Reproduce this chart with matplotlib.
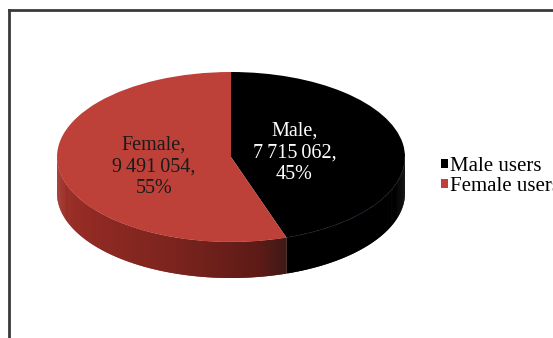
import numpy as np
import matplotlib
matplotlib.use('Agg')
import matplotlib.pyplot as plt
from matplotlib.collections import PolyCollection
from matplotlib.patches import Patch

names = ['Male', 'Female']
legend_labels = ['Male users', 'Female users']
users = [7715062, 9491054]
top_colors = ['#000000', '#be4139']

W, H = 553, 338
fig = plt.figure(figsize=(W / 100, H / 100), dpi=100)
fig.patch.set_facecolor('white')

# full-figure axes in pixel units for the frame and legend
ax = fig.add_axes([0, 0, 1, 1])
ax.set_xlim(0, W)
ax.set_ylim(H, 0)
ax.axis('off')
ax.plot([9, 9], [H, 10], color='#3a3a3a', lw=2, solid_capstyle='projecting')
ax.plot([9, W + 5], [10, 10], color='#3a3a3a', lw=2, solid_capstyle='projecting')

# pie axes: unit circle stretched into the ellipse, side depth below it
cx, cy, rx, ry, depth_px = 231, 157, 174, 85, 36
depth = depth_px / ry
top_px, bot_px = cy - ry, cy + ry + depth_px
pax = fig.add_axes([(cx - rx) / W, 1 - bot_px / H, 2 * rx / W, (bot_px - top_px) / H])

total = sum(users)
fracs = [u / total for u in users]
# clockwise from 12 o'clock
starts, a = [], 90.0
for f in fracs:
    starts.append(a)
    a -= 360 * f
ends = [s - 360 * f for s, f in zip(starts, fracs)]


def side_color(phi, name):
    if name == 'Male':
        return (0, 0, 0)
    # horizontal shading on the red wall, darkest next to the black slice
    xs = [-180, -110, -80, ends[0]]
    cs = np.array([[166, 50, 42], [125, 36, 30], [92, 26, 22], [62, 26, 22]]) / 255
    return tuple(np.interp(phi, xs, cs[:, k]) for k in range(3))


polys, cols = [], []
for name, s, e in zip(names, starts, ends):
    lo, hi = sorted((s, e))
    # visible front wall lies between -180 and 0 degrees
    for lo2, hi2 in [(lo, hi), (lo - 360, hi - 360)]:
        a0, a1 = max(lo2, -180), min(hi2, 0)
        if a1 <= a0:
            continue
        grid = np.linspace(a0, a1, int(a1 - a0) * 2 + 2)
        step = grid[1] - grid[0]
        for p0, p1 in zip(grid[:-1], grid[1:]):
            # strips overlap their neighbour so no seams show
            q1 = min(p1 + step, a1)
            r0, r1 = np.radians(p0), np.radians(q1)
            polys.append([(np.cos(r0), np.sin(r0)), (np.cos(r1), np.sin(r1)),
                          (np.cos(r1), np.sin(r1) - depth), (np.cos(r0), np.sin(r0) - depth)])
            cols.append(side_color((p0 + p1) / 2, name))
pax.add_collection(PolyCollection(polys, facecolors=cols, edgecolors='none', linewidths=0))

pax.pie(users, colors=top_colors, startangle=90, counterclock=False, radius=1,
        wedgeprops=dict(linewidth=0))
pax.set_aspect('auto')
pax.set_xlim(-1, 1)
pax.set_ylim(-1 - depth, 1)
pax.axis('off')

# rim line along the black wall
phi = np.radians(np.linspace(ends[0], 0, 80))
pax.plot(np.cos(phi), np.sin(phi), color='#1c2433', lw=0.6, ls=(0, (2, 1)))

serif = ['Liberation Serif', 'DejaVu Serif']
label_r = [0.37, 0.45]
label_dy = [-0.01, -0.045]
txt_colors = ['white', '#1a1a1a']
for name, u, f, s, e, c, r, dy in zip(names, users, fracs, starts, ends, txt_colors, label_r, label_dy):
    mid = np.radians((s + e) / 2)
    num = f'{u:,}'.replace(',', '\u2009')
    pax.text(r * np.cos(mid), r * np.sin(mid) + dy,
             f'{name},\n{num},\n{round(f * 100)}%', ha='center', va='center',
             color=c, fontsize=14.5, family=serif, linespacing=1.2)

handles = [Patch(facecolor=c, edgecolor='none') for c in top_colors]
ax.legend(handles, legend_labels, loc='upper left', bbox_to_anchor=(441, 157),
          bbox_transform=ax.transData, frameon=False, handlelength=0.35,
          handleheight=0.35, handletextpad=0.08, labelspacing=0.05,
          borderpad=0, borderaxespad=0, prop=dict(family=serif, size=15))

fig.savefig('out.png', dpi=100)
